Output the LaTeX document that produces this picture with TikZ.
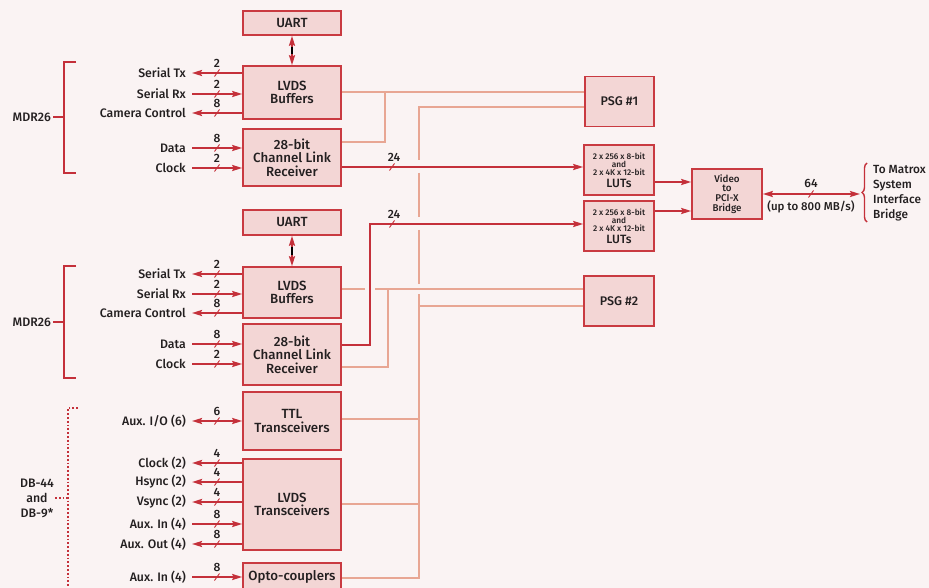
\documentclass[tikz,border=0pt]{standalone}
\usepackage{fontspec}
\setmainfont{Fira Sans}[UprightFont={* Medium}]
\usetikzlibrary{arrows.meta,decorations.pathreplacing,calc}
\definecolor{bg}{HTML}{FAF3F3}
\definecolor{boxfill}{HTML}{F3D6D5}
\definecolor{boxline}{HTML}{C93A41}
\definecolor{sig}{HTML}{C4303A}
\definecolor{salmon}{HTML}{E8A693}
\definecolor{txt}{HTML}{231F20}
\tikzset{
  blk/.style={draw=boxline, fill=boxfill, line width=1.6pt, minimum width=98pt, inner sep=0pt, align=center, font=\fontsize{13.3}{13.6}\selectfont, text=txt},
  sblk/.style={blk, minimum width=70pt, minimum height=50pt},
  sigline/.style={draw=sig, line width=1.8pt},
  tipR/.style={-{Stealth[length=10pt,width=6pt,inset=1.5pt]}},
  tipL/.style={{Stealth[length=10pt,width=6pt,inset=1.5pt]}-},
  tipLR/.style={{Stealth[length=10pt,width=6pt,inset=1.5pt]}-{Stealth[length=10pt,width=6pt,inset=1.5pt]}},
  lbl/.style={anchor=east, font=\fontsize{12.3}{13}\selectfont, text=txt, inner sep=0pt},
  num/.style={font=\fontsize{12}{12}\selectfont, text=txt, inner sep=0pt},
  link/.style={draw=salmon, line width=1.8pt},
  slash/.style={draw=sig, line width=0.9pt}
}
% name, y, label, number, box, tip style, extra line style
\newcommand{\sig}[7]{%
  \node[lbl] (#1) at (186,#2) {#3};
  \draw[sigline,#6,#7] ([xshift=6pt]#1.east) -- (#5.west |- #1.east);
  \draw[slash] (214.5,#2+3.5) -- (219.5,#2-3.5);
  \node[num] (#1n) at (217,#2-9.5) {#4};}
\newcommand{\luttext}{2 x 256 x 8-bit\\and\\2 x 4K x 12-bit\\[2pt]{\fontsize{12}{11}\selectfont LUTs}}
\begin{document}
\begin{tikzpicture}[x=1pt,y=-1pt]
\fill[bg] (0,0) rectangle (929,588);
\useasboundingbox (0,0) rectangle (929,588);

% blocks
\node[blk, minimum height=24pt] (uart1) at (292,23) {UART};
\node[blk, minimum height=53pt] (lvds1) at (292,92.5) {LVDS\\Buffers};
\node[blk, minimum height=57pt] (clr1) at (292,157.5) {28-bit\\Channel Link\\Receiver};
\node[blk, minimum height=25pt] (uart2) at (292,222.5) {UART};
\node[blk, minimum height=51pt] (lvds2) at (292,292.5) {LVDS\\Buffers};
\node[blk, minimum height=61pt] (clr2) at (292,354.5) {28-bit\\Channel Link\\Receiver};
\node[blk, minimum height=58pt] (ttl) at (292,421) {TTL\\Transceivers};
\node[blk, minimum height=91pt] (lvdst) at (292,504.5) {LVDS\\Transceivers};
\node[blk, minimum height=28pt] (opto) at (292,577) {Opto-couplers};

\node[sblk, minimum width=69pt, font=\fontsize{12.5}{13}\selectfont] (psg1) at (619.5,101.5) {PSG \#1};
\node[sblk, font=\fontsize{8.3}{8.4}\selectfont] (lut1) at (619,170) {\luttext};
\node[sblk, font=\fontsize{8.3}{8.4}\selectfont] (lut2) at (619,226) {\luttext};
\node[sblk, font=\fontsize{12.5}{13}\selectfont] (psg2) at (619,301) {PSG \#2};
\node[sblk, font=\fontsize{9.8}{9.8}\selectfont] (bridge) at (727,194) {Video\\to\\PCI-X\\Bridge};

% UART links
\draw[sigline, tipLR] (uart1.south) -- (lvds1.north);
\draw[black, line width=1.8pt] ($(uart1.south)!0.38!(lvds1.north)$) -- ($(uart1.south)!0.62!(lvds1.north)$);
\draw[sigline, tipLR] (uart2.south) -- (lvds2.north);
\draw[black, line width=1.8pt] ($(uart2.south)!0.38!(lvds2.north)$) -- ($(uart2.south)!0.62!(lvds2.north)$);

% upper camera signals
\sig{stx1}{73}{Serial Tx}{2}{lvds1}{tipL}{}
\sig{srx1}{94}{Serial Rx}{2}{lvds1}{tipR}{}
\sig{cc1}{113}{Camera Control}{8}{lvds1}{tipL}{}
\sig{dat1}{148}{Data}{8}{clr1}{tipR}{}
\sig{clk1}{168}{Clock}{2}{clr1}{tipR}{}
% lower camera signals
\sig{stx2}{274}{Serial Tx}{2}{lvds2}{tipL}{}
\sig{srx2}{294}{Serial Rx}{2}{lvds2}{tipR}{}
\sig{cc2}{313}{Camera Control}{8}{lvds2}{tipL}{}
\sig{dat2}{344}{Data}{8}{clr2}{tipR}{}
\sig{clk2}{364}{Clock}{2}{clr2}{tipR}{}
% aux signals
\sig{auxio}{421}{Aux. I/O (6)}{6}{ttl}{tipLR}{}
\sig{clk3}{463}{Clock (2)}{4}{lvdst}{tipL}{line width=2.4pt}
\sig{hs}{482}{Hsync (2)}{4}{lvdst}{tipL}{line width=2.4pt}
\sig{vs}{502}{Vsync (2)}{4}{lvdst}{tipL}{line width=2.4pt}
\sig{auxin}{524}{Aux. In (4)}{8}{lvdst}{tipR}{}
\sig{auxout}{544}{Aux. Out (4)}{8}{lvdst}{tipL}{}
\sig{auxin2}{577}{Aux. In (4)}{8}{opto}{tipR}{}

% connector brackets
\node[lbl] (mdr1) at (51,117) {MDR26};
\draw[sigline] (76,62) -- (64,62) -- (64,173) -- (76,173);
\draw[sigline] (mdr1.east) ++(2,0) -- (64,117);
\node[lbl] (mdr2) at (51,322) {MDR26};
\draw[sigline] (76,266) -- (64,266) -- (64,378) -- (76,378);
\draw[sigline] (mdr2.east) ++(2,0) -- (64,322);
\node[font=\fontsize{12.3}{15}\selectfont, text=txt, align=center, inner sep=0pt] (db) at (37,498) {DB-44\\and\\DB-9*};
\draw[draw=sig, line width=1.8pt, dotted] (78,408) -- (68,408) -- (68,600);
\draw[draw=sig, line width=1.8pt, dotted] (55,498) -- (68,498);

% salmon links
\draw[link] (lvds1.east |- 0,92) -- (psg1.west |- 0,92);
\draw[link] (clr1.east |- 0,142) -- (385,142) -- (385,92);
\draw[link] (psg1.west |- 0,107) -- (419,107) -- (419,160);
\draw[link] (419,173) -- (419,217);
\draw[link] (419,230) -- (419,284);
\draw[link] (419,294) -- (419,578) -- (opto.east |- 0,578);
\draw[link] (lvds2.east |- 0,289) -- (365,289);
\draw[link] (375,289) -- (psg2.west |- 0,289);
\draw[link] (clr2.east |- 0,367) -- (388,367) -- (388,289);
\draw[link] (psg2.west |- 0,306) -- (419,306);
\draw[link] (ttl.east |- 0,419) -- (419,419);
\draw[link] (lvdst.east |- 0,504) -- (419,504);

% 24-bit buses
\draw[sigline, tipR] (clr1.east |- 0,167) -- (lut1.west |- 0,167);
\draw[slash] (389.5,170.5) -- (394.5,163.5);
\node[num] (n24a) at (394,157) {24};
\draw[sigline, tipR] (clr2.east |- 0,345) -- (370,345) -- (370,224) -- (lut2.west |- 0,224);
\draw[slash] (389.5,227.5) -- (394.5,220.5);
\node[num] (n24b) at (394,214) {24};

% LUTs to bridge
\draw[sigline, tipR] (lut1.east |- 0,182) -- (bridge.west |- 0,182);
\draw[sigline, tipR] (lut2.east |- 0,211) -- (bridge.west |- 0,211);

% bridge to system
\coordinate (sysend) at (860,194);
\draw[sigline, tipLR] (bridge.east) -- (sysend);
\draw[slash] (808.5,197.5) -- (813.5,190.5);
\node[num] (n64) at (811,183) {64};
\node[num, font=\fontsize{11.5}{12}\selectfont] (rate) at (811,207) {(up to 800 MB/s)};
\draw[sig, line width=1.4pt, decorate, decoration={brace, amplitude=5pt}] (867,222) -- (867,163);
\node[anchor=west, align=left, inner sep=0pt, font=\fontsize{11.8}{15}\selectfont, text=txt] (sys) at (873,193.5) {To Matrox\\System\\Interface\\Bridge};
\end{tikzpicture}
\end{document}
